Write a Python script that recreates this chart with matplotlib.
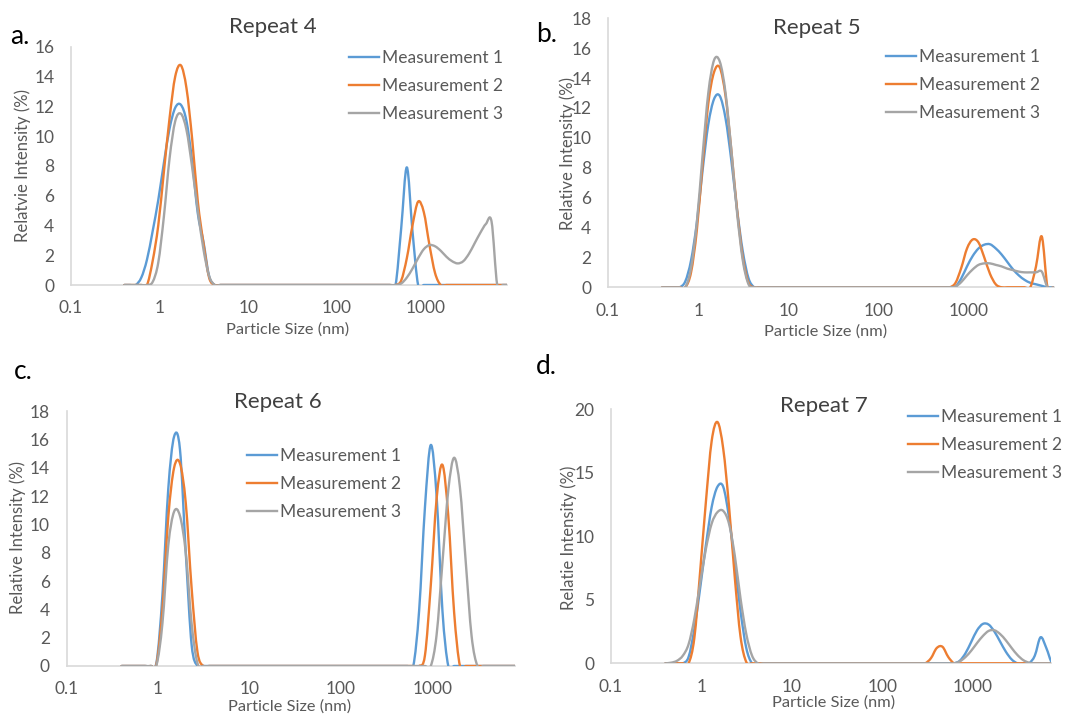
import matplotlib
matplotlib.use("Agg")
import matplotlib.pyplot as plt
import numpy as np
from matplotlib.ticker import FixedLocator, FixedFormatter, NullLocator
from matplotlib.path import Path
from matplotlib.patches import PathPatch
from matplotlib.lines import Line2D

# ---------------- data ----------------
size_bins = [0.4, 0.4632, 0.5365, 0.6213, 0.7195, 0.8332, 0.9649, 1.117, 1.294, 1.499,
             1.736, 2.010, 2.328, 2.696, 3.122, 3.615, 4.187, 4.849, 5.615, 6.503,
             7.531, 8.721, 10.10, 11.70, 13.54, 15.69, 18.17, 21.04, 24.36, 28.21,
             32.67, 37.84, 43.82, 50.75, 58.77, 68.06, 78.82, 91.28, 105.7, 122.4,
             141.8, 164.2, 190.1, 220.2, 255.0, 295.3, 342.0, 396.1, 458.7, 531.2,
             615.1, 712.4, 825.0, 955.4, 1106, 1281, 1484, 1718, 1990, 2305,
             2669, 3091, 3580, 4145, 4801, 5560, 6439, 7456, 8635, 10000]

series_names = ["Measurement 1", "Measurement 2", "Measurement 3"]

# Repeat 4
rep4_m1 = [0, 0, 0, 0.5, 1.7, 3.6, 5.7, 8.2, 10.5, 11.9,
           12.1, 11.0, 8.3, 4.8, 2.9, 0.6, 0, 0, 0, 0,
           0, 0, 0, 0, 0, 0, 0, 0, 0, 0,
           0, 0, 0, 0, 0, 0, 0, 0, 0, 0,
           0, 0, 0, 0, 0, 0, 0, 0, 0, 3.8,
           7.9, 3.6, 0, 0, 0, 0, 0, 0, 0, 0,
           0, 0, 0, 0, 0, 0, 0, 0, 0, 0]
rep4_m2 = [0, 0, 0, 0, 0, 1.6, 4.0, 7.6, 11.2, 14.0,
           14.75, 13.2, 9.8, 5.6, 2.8, 0.5, 0, 0, 0, 0,
           0, 0, 0, 0, 0, 0, 0, 0, 0, 0,
           0, 0, 0, 0, 0, 0, 0, 0, 0, 0,
           0, 0, 0, 0, 0, 0, 0, 0, 0, 0.3,
           1.8, 4.0, 5.6, 4.9, 2.7, 0.8, 0, 0, 0, 0,
           0, 0, 0, 0, 0, 0, 0, 0, 0, 0]
rep4_m3 = [0, 0, 0, 0, 0, 0.2, 1.5, 4.6, 8.5, 11.0,
           11.5, 10.4, 7.9, 5.0, 2.4, 0.6, 0, 0, 0, 0,
           0, 0, 0, 0, 0, 0, 0, 0, 0, 0,
           0, 0, 0, 0, 0, 0, 0, 0, 0, 0,
           0, 0, 0, 0, 0, 0, 0, 0, 0, 0.1,
           0.5, 1.1, 1.8, 2.4, 2.68, 2.6, 2.3, 1.9, 1.6, 1.45,
           1.6, 2.1, 2.8, 3.5, 4.1, 4.25, 0, 0, 0, 0]

# Repeat 5
rep5_m1 = [0, 0, 0, 0, 0.4, 1.8, 4.3, 7.8, 10.9, 12.6,
           12.8, 11.3, 8.5, 5.2, 2.4, 0.6, 0, 0, 0, 0,
           0, 0, 0, 0, 0, 0, 0, 0, 0, 0,
           0, 0, 0, 0, 0, 0, 0, 0, 0, 0,
           0, 0, 0, 0, 0, 0, 0, 0, 0, 0,
           0, 0.05, 0.6, 1.4, 2.1, 2.6, 2.85, 2.88, 2.6, 2.2,
           1.7, 1.2, 0.8, 0.5, 0.3, 0.2, 0.1, 0, 0, 0]
rep5_m2 = [0, 0, 0, 0, 0, 1.0, 3.8, 8.2, 12.3, 14.4,
           14.7, 12.8, 9.2, 5.2, 2.0, 0.3, 0, 0, 0, 0,
           0, 0, 0, 0, 0, 0, 0, 0, 0, 0,
           0, 0, 0, 0, 0, 0, 0, 0, 0, 0,
           0, 0, 0, 0, 0, 0, 0, 0, 0, 0,
           0, 0.3, 1.3, 2.6, 3.2, 3.0, 2.0, 0.9, 0.2, 0,
           0, 0, 0, 0, 0, 1.4, 3.4, 0, 0, 0]
rep5_m3 = [0, 0, 0, 0, 0, 1.3, 4.3, 8.8, 13.0, 15.2,
           15.1, 13.0, 9.2, 5.0, 1.8, 0.2, 0, 0, 0, 0,
           0, 0, 0, 0, 0, 0, 0, 0, 0, 0,
           0, 0, 0, 0, 0, 0, 0, 0, 0, 0,
           0, 0, 0, 0, 0, 0, 0, 0, 0, 0,
           0, 0.05, 0.35, 0.8, 1.2, 1.5, 1.6, 1.6, 1.5, 1.4,
           1.25, 1.15, 1.05, 1.0, 1.0, 1.0, 1.05, 0, 0, 0]

# Repeat 6
rep6_m1 = [0, 0, 0, 0, 0, 0, 0.3, 5.0, 12.5, 16.2,
           15.3, 8.0, 1.5, 0, 0, 0, 0, 0, 0, 0,
           0, 0, 0, 0, 0, 0, 0, 0, 0, 0,
           0, 0, 0, 0, 0, 0, 0, 0, 0, 0,
           0, 0, 0, 0, 0, 0, 0, 0, 0, 0,
           0, 3.9, 11.2, 15.6, 12.0, 3.9, 0, 0, 0, 0,
           0, 0, 0, 0, 0, 0, 0, 0, 0, 0]
rep6_m2 = [0, 0, 0, 0, 0, 0, 0.2, 4.0, 10.5, 14.0,
           14.3, 11.5, 5.5, 1.0, 0, 0, 0, 0, 0, 0,
           0, 0, 0, 0, 0, 0, 0, 0, 0, 0,
           0, 0, 0, 0, 0, 0, 0, 0, 0, 0,
           0, 0, 0, 0, 0, 0, 0, 0, 0, 0,
           0, 0, 0.75, 5.7, 11.8, 14.2, 10.6, 3.8, 0, 0,
           0, 0, 0, 0, 0, 0, 0, 0, 0, 0]
rep6_m3 = [0, 0, 0, 0, 0, 0, 0.1, 3.0, 8.5, 10.9,
           10.6, 8.0, 3.0, 0.2, 0, 0, 0, 0, 0, 0,
           0, 0, 0, 0, 0, 0, 0, 0, 0, 0,
           0, 0, 0, 0, 0, 0, 0, 0, 0, 0,
           0, 0, 0, 0, 0, 0, 0, 0, 0, 0,
           0, 0, 0, 0, 2.2, 7.3, 12.4, 14.7, 12.6, 7.3,
           2.1, 0, 0, 0, 0, 0, 0, 0, 0, 0]

# Repeat 7
rep7_m1 = [0, 0, 0, 0, 0.5, 2.7, 5.9, 9.3, 12.3, 13.9,
           13.9, 11.5, 7.9, 4.1, 1.2, 0, 0, 0, 0, 0,
           0, 0, 0, 0, 0, 0, 0, 0, 0, 0,
           0, 0, 0, 0, 0, 0, 0, 0, 0, 0,
           0, 0, 0, 0, 0, 0, 0, 0, 0, 0,
           0, 0.2, 0.8, 1.7, 2.6, 3.1, 3.05, 2.5, 1.7, 0.9,
           0.3, 0, 0, 0, 0.6, 2.05, 1.2, 0, 0, 0]
rep7_m2 = [0, 0, 0, 0, 0, 2.0, 7.2, 12.7, 17.5, 19.0,
           16.9, 12.4, 6.8, 2.1, 0.1, 0, 0, 0, 0, 0,
           0, 0, 0, 0, 0, 0, 0, 0, 0, 0,
           0, 0, 0, 0, 0, 0, 0, 0, 0, 0,
           0, 0, 0, 0, 0, 0, 0.4, 1.2, 1.3, 0.5,
           0, 0, 0, 0, 0, 0, 0, 0, 0, 0,
           0, 0, 0, 0, 0, 0, 0, 0, 0, 0]
rep7_m3 = [0, 0.05, 0.2, 0.6, 1.5, 3.5, 6.3, 9.0, 11.0, 11.9,
           12.0, 11.0, 8.5, 5.1, 2.3, 0.6, 0, 0, 0, 0,
           0, 0, 0, 0, 0, 0, 0, 0, 0, 0,
           0, 0, 0, 0, 0, 0, 0, 0, 0, 0,
           0, 0, 0, 0, 0, 0, 0, 0, 0, 0,
           0, 0.15, 0.5, 1.0, 1.6, 2.15, 2.55, 2.6, 2.3, 1.8,
           1.2, 0.65, 0.25, 0.05, 0, 0, 0, 0, 0, 0]

x_ticks = [0.1, 1, 10, 100, 1000]
x_tick_labels = ["0.1", "1", "10", "100", "1000"]

panel_titles = ["Repeat 4", "Repeat 5", "Repeat 6", "Repeat 7"]
panel_letters = ["a.", "b.", "c.", "d."]
y_labels = ["Relatvie Intensity (%)", "Relative Intensity (%)",
            "Relative Intensity (%)", "Relatie Intensity (%)"]
x_label = "Particle Size (nm)"
y_ticks = [[0, 2, 4, 6, 8, 10, 12, 14, 16],
           [0, 2, 4, 6, 8, 10, 12, 14, 16, 18],
           [0, 2, 4, 6, 8, 10, 12, 14, 16, 18],
           [0, 5, 10, 15, 20]]
panel_series = [[rep4_m1, rep4_m2, rep4_m3],
                [rep5_m1, rep5_m2, rep5_m3],
                [rep6_m1, rep6_m2, rep6_m3],
                [rep7_m1, rep7_m2, rep7_m3]]

# ---------------- style / layout ----------------
W, H = 1068, 716
plt.rcParams['font.family'] = ['Lato', 'DejaVu Sans']
colors = ["#5B9BD5", "#ED7D31", "#A5A5A5"]
txt_col = "#595959"
axis_col = "#D9D9D9"
LW = 1.7

fig = plt.figure(figsize=(W / 100, H / 100), dpi=100)


def fx(px):
    return px / W


def fy(py):
    return 1 - py / H


def smoothed_path(xs, ys):
    """Excel-style smoothed line: cubic Bezier segments through the data points
    (control points computed in log-x / linear-y space)."""
    lx = np.log10(np.asarray(xs, float))
    y = np.asarray(ys, float)
    n = len(lx)
    verts = [(xs[0], y[0])]
    codes = [Path.MOVETO]
    for i in range(n - 1):
        i0 = max(i - 1, 0)
        i3 = min(i + 2, n - 1)
        c1x = lx[i] + (lx[i + 1] - lx[i0]) / 6.0
        c1y = y[i] + (y[i + 1] - y[i0]) / 6.0
        c2x = lx[i + 1] - (lx[i3] - lx[i]) / 6.0
        c2y = y[i + 1] - (y[i3] - y[i]) / 6.0
        verts += [(10 ** c1x, c1y), (10 ** c2x, c2y), (xs[i + 1], y[i + 1])]
        codes += [Path.CURVE4] * 3
    return Path(verts, codes)


# pixel boxes: left, right, top, bottom ; x max of axis
layout = [
    dict(box=(71, 507, 46.7, 285), xmax=8300, ylim=16,
         title=(273, 27), letter=(10, 36), ylab=(23, 166), xlab=(288, 330),
         leg=(349, 50)),
    dict(box=(608, 1054, 18.3, 287.3), xmax=8800, ylim=18,
         title=(817, 28), letter=(536, 34), ylab=(568, 153), xlab=(826, 332),
         leg=(886, 49)),
    dict(box=(66.5, 515, 411, 666), xmax=7950, ylim=18,
         title=(278, 402), letter=(14, 371), ylab=(18, 538), xlab=(290, 707),
         leg=(247, 448)),
    dict(box=(611, 1051, 409.3, 663.3), xmax=7250, ylim=20,
         title=(824, 406), letter=(536, 367), ylab=(569, 538), xlab=(834, 703),
         leg=(908, 409)),
]

for k, L in enumerate(layout):
    l, r, t, b = L["box"]
    ax = fig.add_axes([fx(l), fy(b), fx(r - l), (b - t) / H])
    ax.set_xscale("log")
    ax.set_xlim(0.1, L["xmax"])
    ax.set_ylim(0, L["ylim"])
    handles = []
    for s, (vals, c) in enumerate(zip(panel_series[k], colors)):
        patch = PathPatch(smoothed_path(size_bins, vals), facecolor="none",
                          edgecolor=c, lw=LW, joinstyle="round", capstyle="round",
                          zorder=3 + s, transform=ax.transData)
        ax.add_patch(patch)
        handles.append(Line2D([], [], color=c, lw=LW, label=series_names[s]))
    ax.set_xlim(0.1, L["xmax"])
    ax.set_ylim(0, L["ylim"])
    ax.xaxis.set_major_locator(FixedLocator(x_ticks))
    ax.xaxis.set_major_formatter(FixedFormatter(x_tick_labels))
    ax.xaxis.set_minor_locator(NullLocator())
    ax.set_yticks(y_ticks[k])
    ax.set_yticklabels([str(v) for v in y_ticks[k]])
    ax.tick_params(axis="both", length=0, colors=txt_col, labelsize=12.5)
    ax.tick_params(axis="y", pad=12)
    ax.tick_params(axis="x", pad=11)
    for sp in ["top", "right"]:
        ax.spines[sp].set_visible(False)
    for sp in ["left", "bottom"]:
        ax.spines[sp].set_color(axis_col)
        ax.spines[sp].set_linewidth(1.2)
    ax.patch.set_alpha(0)

    ax.set_ylabel(y_labels[k], fontsize=12, color=txt_col, va="center", ha="center")
    ax.yaxis.set_label_coords(fx(L["ylab"][0]), fy(L["ylab"][1]), transform=fig.transFigure)
    ax.set_xlabel(x_label, fontsize=11.8, color=txt_col, va="center", ha="center")
    ax.xaxis.set_label_coords(fx(L["xlab"][0]), fy(L["xlab"][1]), transform=fig.transFigure)

    fig.text(fx(L["title"][0]), fy(L["title"][1]), panel_titles[k], fontsize=16,
             color="#404040", ha="center", va="center")
    fig.text(fx(L["letter"][0]), fy(L["letter"][1]), panel_letters[k], fontsize=19,
             color="black", ha="left", va="center")

    ax.legend(handles=handles, loc="upper left",
              bbox_to_anchor=(fx(L["leg"][0]), fy(L["leg"][1])),
              bbox_transform=fig.transFigure, frameon=False, fontsize=12.5,
              handlelength=1.72, handletextpad=0.17, labelspacing=0.69,
              borderpad=0, borderaxespad=0, labelcolor=txt_col)

fig.savefig("out.png", dpi=100)
